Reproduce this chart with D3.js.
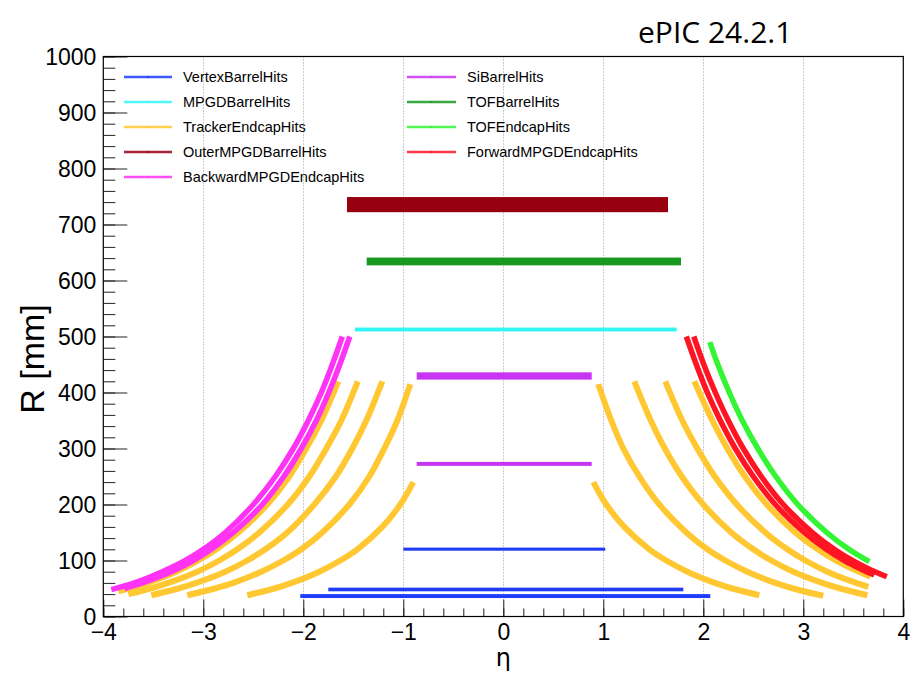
<!DOCTYPE html>
<html><head><meta charset="utf-8">
<script src="https://cdn.jsdelivr.net/npm/d3@7"></script>
<style>body{margin:0;background:#fff}</style>
</head><body>
<svg id="c" width="913" height="673"></svg>
<script>
// ---------------- DATA ----------------
const seriesNames = ["VertexBarrelHits","SiBarrelHits","MPGDBarrelHits","TOFBarrelHits",
  "TrackerEndcapHits","TOFEndcapHits","OuterMPGDBarrelHits","ForwardMPGDEndcapHits","BackwardMPGDEndcapHits"];
const xTicks = [-4,-3,-2,-1,0,1,2,3,4];
const yTicks = [0,100,200,300,400,500,600,700,800,900,1000];
const gridEta = [-3,-2,-1,0,1,2,3];

// barrel bands: [etaMin, etaMax, Rlow, Rhigh]
const vertexBands = [[-2.03,2.07,33,40],[-1.75,1.80,45,51.5],[-1.0,1.02,117.5,123]];
const siBands = [[-0.866,0.884,269,276],[-0.866,0.884,423,436]];
const mpgdBands = [[-1.483,1.734,509,516]];
const tofBarrelBands = [[-1.366,1.777,627,641]];
const outerMpgdBands = [[-1.563,1.647,722,749]];

// endcap disks: [eta, R]
const trackerNeg1 = [[-1.65,420],[-1.82,350],[-1.97,300],[-2.14,250],[-2.36,200],[-2.65,150],[-2.87,120],[-3.05,100],[-3.27,80],[-3.56,60],[-3.85,45]];
const trackerNeg2 = [[-1.455,420],[-1.62,350],[-1.77,300],[-1.94,250],[-2.155,200],[-2.44,150],[-2.66,120],[-2.84,100],[-3.06,80],[-3.35,60],[-3.53,50],[-3.75,40]];
const trackerNeg3 = [[-1.21,420],[-1.37,350],[-1.51,300],[-1.675,250],[-1.89,200],[-2.16,150],[-2.38,120],[-2.56,100],[-2.78,80],[-3.07,60],[-3.25,50],[-3.52,38]];
const trackerNeg4 = [[-0.93,415],[-1.06,350],[-1.19,300],[-1.34,250],[-1.54,200],[-1.81,150],[-2.02,120],[-2.2,100],[-2.42,80],[-2.70,60],[-2.885,50],[-3.16,38]];
const trackerNeg5 = [[-0.9,240],[-1.03,200],[-1.21,160],[-1.46,120],[-1.63,100],[-1.84,80],[-2.115,60],[-2.29,50],[-2.56,38]];
const trackerPos5 = [[0.9,240],[1.03,200],[1.21,160],[1.46,120],[1.63,100],[1.84,80],[2.115,60],[2.29,50],[2.56,38]];
const trackerPos4 = [[0.95,415],[1.08,350],[1.2,300],[1.36,250],[1.56,200],[1.83,150],[2.04,120],[2.22,100],[2.44,80],[2.72,60],[2.9,50],[3.2,37]];
const trackerPos3 = [[1.31,420],[1.475,350],[1.615,300],[1.785,250],[2.0,200],[2.28,150],[2.5,120],[2.68,100],[2.9,80],[3.19,60],[3.37,50],[3.64,38]];
const trackerPos2 = [[1.62,420],[1.79,350],[1.94,300],[2.115,250],[2.335,200],[2.62,150],[2.84,120],[3.02,100],[3.24,80],[3.45,65],[3.65,53]];
const trackerPos1 = [[1.91,420],[2.09,350],[2.24,300],[2.415,250],[2.635,200],[2.92,150],[3.145,120],[3.325,100],[3.49,85],[3.67,71]];
const backwardOuter = [[-1.61,500],[-1.71,450],[-1.82,400],[-1.95,350],[-2.10,300],[-2.28,250],[-2.50,200],[-2.78,150],[-3.0,120],[-3.18,100],[-3.41,80],[-3.69,60],[-3.92,48]];
const backwardInner = [[-1.535,500],[-1.635,450],[-1.745,400],[-1.87,350],[-2.02,300],[-2.195,250],[-2.41,200],[-2.70,150],[-2.92,120],[-3.10,100],[-3.32,80],[-3.61,60],[-3.79,50]];
const forwardInner = [[1.83,500],[1.93,450],[2.04,400],[2.17,350],[2.32,300],[2.50,250],[2.72,200],[3.01,150],[3.23,120],[3.41,100],[3.575,85],[3.71,74]];
const forwardOuter = [[1.905,500],[2.005,450],[2.12,400],[2.25,350],[2.40,300],[2.58,250],[2.80,200],[3.09,150],[3.31,120],[3.49,100],[3.655,85],[3.835,71]];
const tofEndcap = [[2.065,490],[2.145,450],[2.26,400],[2.39,350],[2.545,300],[2.725,250],[2.945,200],[3.235,150],[3.455,120],[3.66,98]];

// ---------------- STYLE ----------------
const colors = {
  VertexBarrelHits:"#1e3cfa", SiBarrelHits:"#c835f2", MPGDBarrelHits:"#33f5f5",
  TOFBarrelHits:"#16991e", TrackerEndcapHits:"#ffc832", TOFEndcapHits:"#33f533",
  OuterMPGDBarrelHits:"#96000f", ForwardMPGDEndcapHits:"#ff1423", BackwardMPGDEndcapHits:"#ff33f5"
};
const svg = d3.select("#c");
const x = d3.scaleLinear().domain([-4,4]).range([103.3,903.3]);
const y = d3.scaleLinear().domain([0,1000]).range([616.5,56.5]);
const FONT = "'Liberation Sans', Arial, Helvetica, sans-serif";

// grid
svg.append("g").selectAll("line").data(gridEta).join("line")
  .attr("x1",d=>Math.round(x(d))+0.5).attr("x2",d=>Math.round(x(d))+0.5)
  .attr("y1",y(1000)).attr("y2",y(0))
  .attr("stroke","#9a9a9a").attr("stroke-width",1).attr("stroke-dasharray","1,2");

const line = d3.line().x(d=>x(d[0])).y(d=>y(d[1])).curve(d3.curveCatmullRom.alpha(0.5));
function drawBands(name, bands){
  svg.append("g").selectAll("rect").data(bands).join("rect")
    .attr("x",d=>x(d[0])).attr("width",d=>x(d[1])-x(d[0]))
    .attr("y",d=>y(d[3])).attr("height",d=>y(d[2])-y(d[3]))
    .attr("fill",colors[name]);
}
function drawCurves(name, curves, w){
  svg.append("g").selectAll("path").data(curves).join("path")
    .attr("d",line).attr("fill","none").attr("stroke",colors[name])
    .attr("stroke-width",w).attr("stroke-linecap","butt");
}
drawBands("VertexBarrelHits", vertexBands);
drawBands("SiBarrelHits", siBands);
drawBands("MPGDBarrelHits", mpgdBands);
drawBands("TOFBarrelHits", tofBarrelBands);
drawCurves("TrackerEndcapHits",[trackerNeg1,trackerNeg2,trackerNeg3,trackerNeg4,trackerNeg5,
  trackerPos1,trackerPos2,trackerPos3,trackerPos4,trackerPos5],6);
drawCurves("TOFEndcapHits",[tofEndcap],5.5);
drawBands("OuterMPGDBarrelHits", outerMpgdBands);
drawCurves("ForwardMPGDEndcapHits",[forwardInner,forwardOuter],5.5);
drawCurves("BackwardMPGDEndcapHits",[backwardOuter,backwardInner],5.5);

// axes
function styleAxis(g){
  g.select(".domain").remove();
  g.selectAll(".tick line").attr("stroke","#222").attr("stroke-width",1);
  g.selectAll("text").attr("font-family",FONT).attr("font-size",23).attr("fill","#000");
}
const xMinor = d3.range(-4,4.0001,0.2).map(v=>+v.toFixed(1));
svg.append("g").attr("transform",`translate(0,${y(0)})`)
  .call(d3.axisBottom(x).tickValues(xMinor).tickSizeInner(-8).tickSizeOuter(0).tickFormat(""))
  .call(styleAxis);
svg.append("g").attr("transform",`translate(0,${y(0)})`)
  .call(d3.axisBottom(x).tickValues(xTicks).tickSizeInner(-17).tickSizeOuter(0).tickPadding(7).tickFormat(d3.format("d")))
  .call(styleAxis);
const yMinor = d3.range(0,1000.001,20);
svg.append("g").attr("transform",`translate(${x(-4)},0)`)
  .call(d3.axisLeft(y).tickValues(yMinor).tickSizeInner(-12).tickSizeOuter(0).tickFormat(""))
  .call(styleAxis);
svg.append("g").attr("transform",`translate(${x(-4)},0)`)
  .call(d3.axisLeft(y).tickValues(yTicks).tickSizeInner(-24).tickSizeOuter(0).tickPadding(7).tickFormat(d3.format("d")))
  .call(styleAxis)
  .call(g=>g.selectAll("text").attr("dy","0.34em"));

// frame
svg.append("rect").attr("x",x(-4)).attr("y",y(1000)).attr("width",x(4)-x(-4)).attr("height",y(0)-y(1000))
  .attr("fill","none").attr("stroke","#000").attr("stroke-width",1.2);

// axis titles
svg.append("text").attr("x",x(0)).attr("y",666).attr("text-anchor","middle")
  .attr("font-family","'DejaVu Sans', sans-serif").attr("font-size",24).text("η");
svg.append("text").attr("transform",`translate(44,${359}) rotate(-90)`).attr("text-anchor","middle")
  .attr("font-family",FONT).attr("font-size",34).text("R [mm]");
svg.append("text").attr("x",638).attr("y",43)
  .attr("font-family","'Open Sans', sans-serif").attr("font-size",30).text("ePIC 24.2.1");

// legend
const legendCols = [[124,172,183],[407,456,467]];
const legendRows = [77,102,127,152,177];
const legend = svg.append("g");
seriesNames.forEach((n,i)=>{
  const col = legendCols[i%2], ry = legendRows[Math.floor(i/2)];
  legend.append("line").attr("x1",col[0]).attr("x2",col[1]).attr("y1",ry).attr("y2",ry)
    .attr("stroke",colors[n]).attr("stroke-width",2.5).attr("opacity",0.85);
  legend.append("circle").attr("cx",(col[0]+col[1])/2).attr("cy",ry).attr("r",1).attr("fill",colors[n]);
  legend.append("text").attr("x",col[2]).attr("y",ry).attr("dy","0.35em")
    .attr("font-family",FONT).attr("font-size",14.5).text(n);
});
</script>
</body></html>
